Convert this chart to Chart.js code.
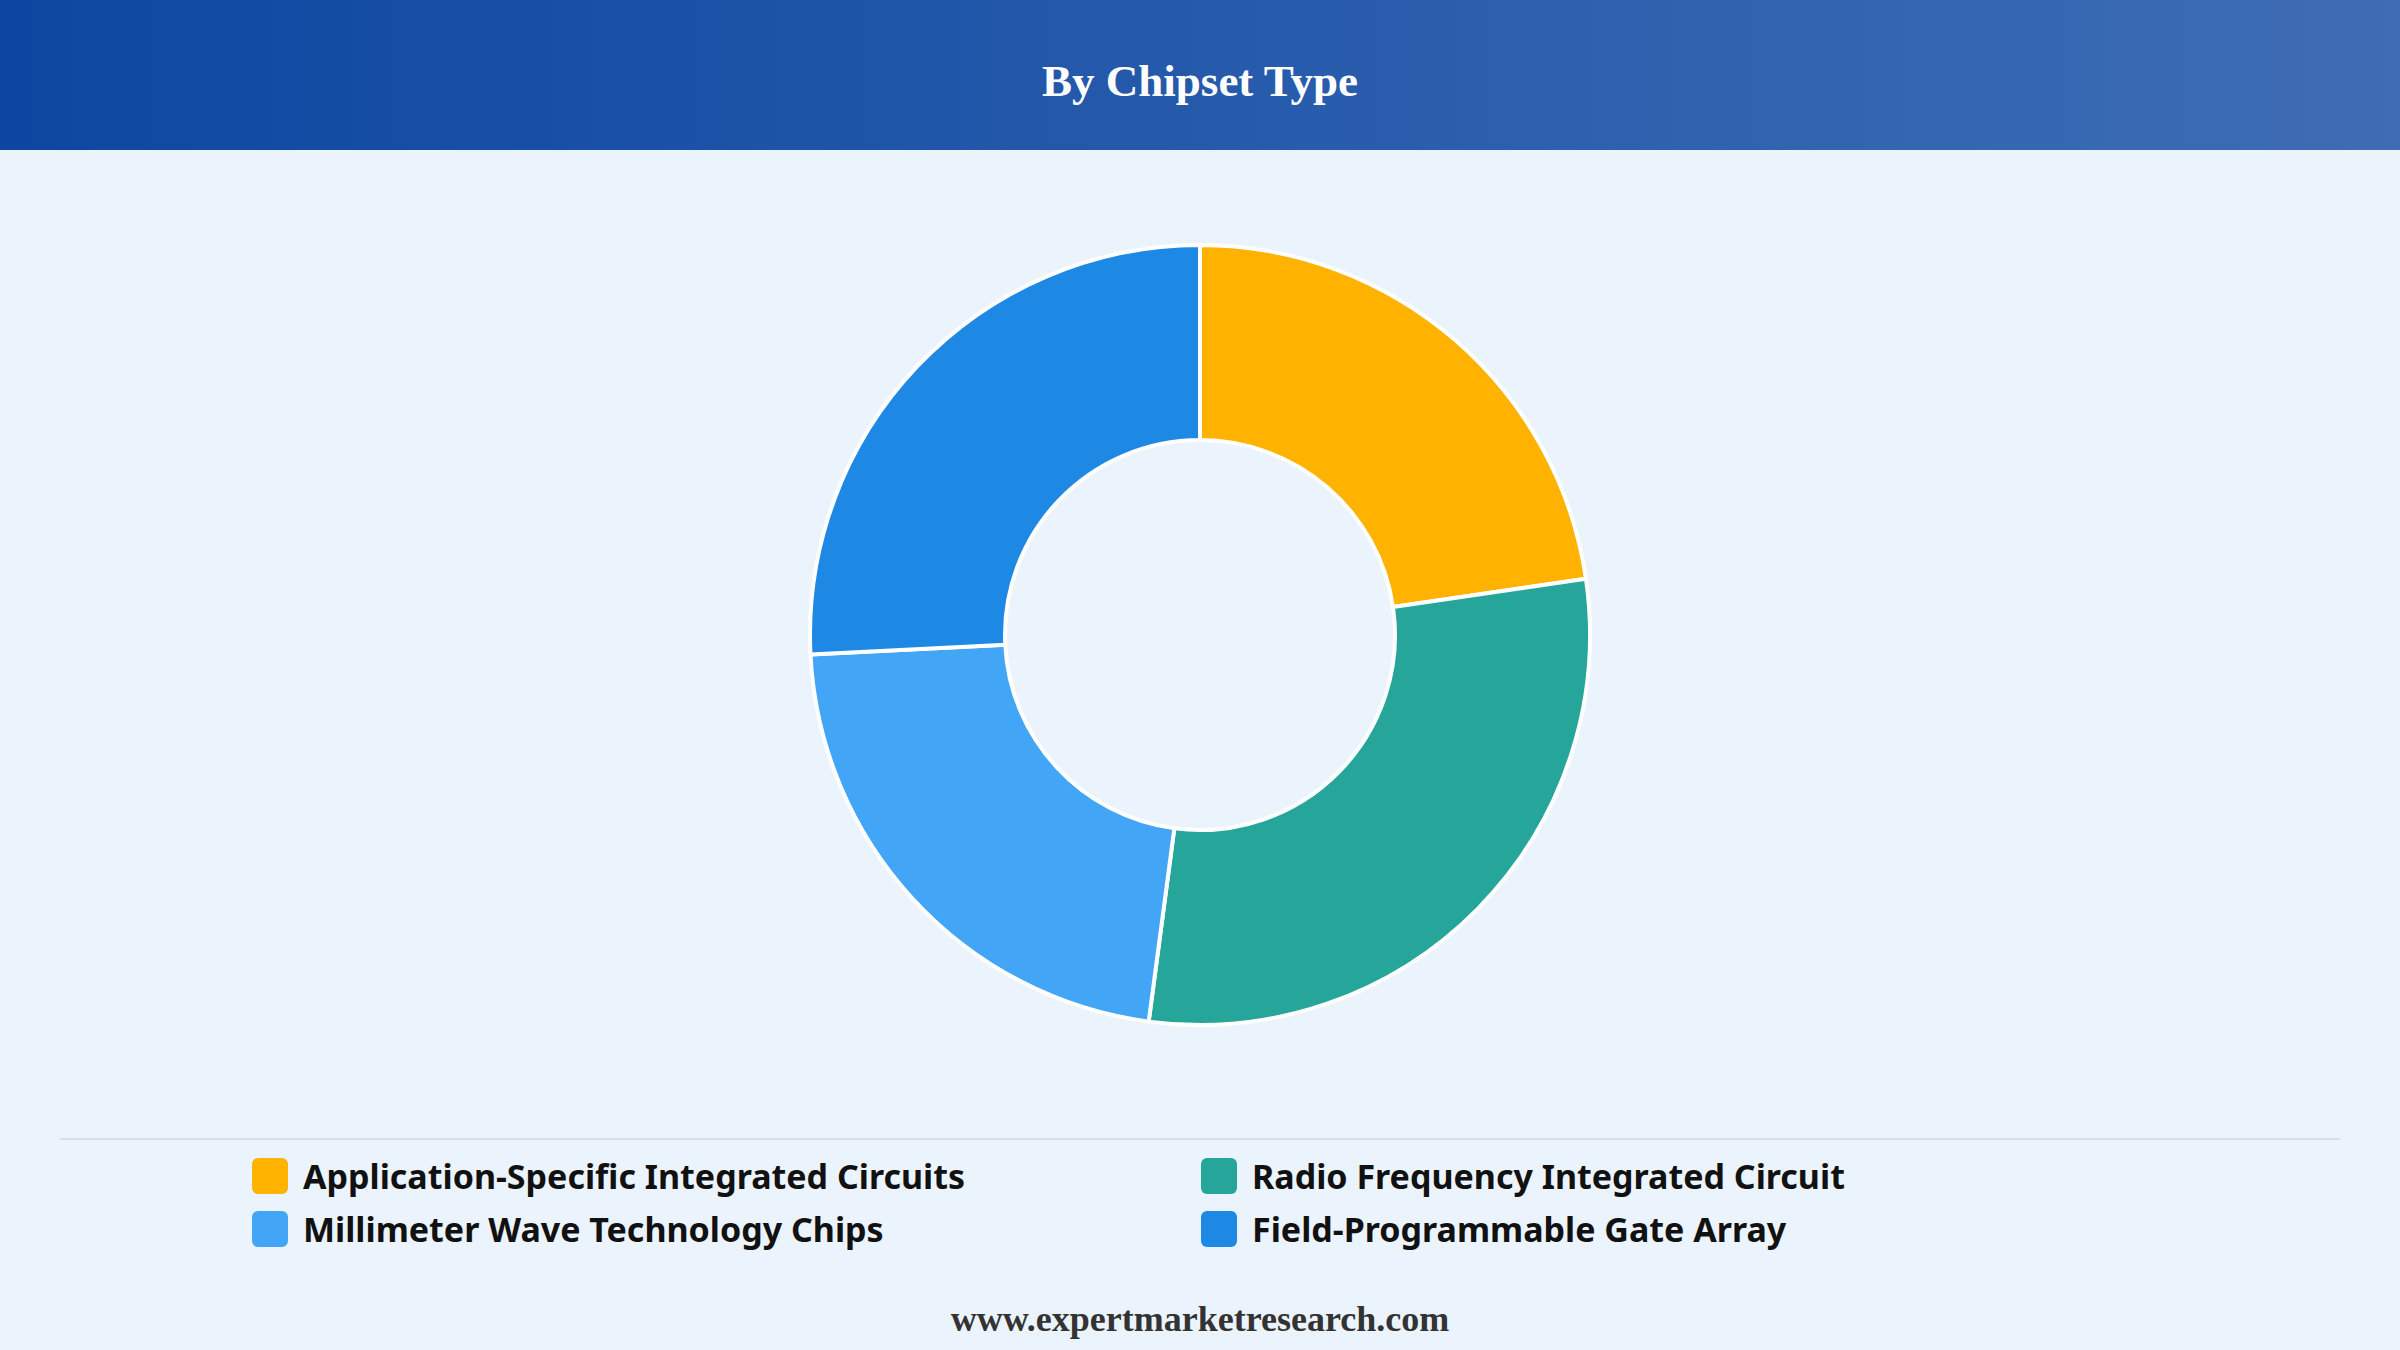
<!DOCTYPE html>
<html>
<head>
<meta charset="utf-8">
<script src="https://cdn.jsdelivr.net/npm/chart.js@4.4.1/dist/chart.umd.min.js"></script>
<style>
  html, body { margin: 0; padding: 0; }
  body { width: 2400px; height: 1350px; background: #EBF3FC; position: relative; overflow: hidden; }
  #header { position: absolute; left: 0; top: 0; width: 2400px; height: 150px;
    background: linear-gradient(90deg, #0D47A1 0%, #3E6DB5 100%); }
  #title { position: absolute; left: 0; top: 0; width: 2400px; height: 162px; line-height: 162px;
    text-align: center; color: #fff; font-family: "Liberation Serif", "DejaVu Serif", serif;
    font-weight: bold; font-size: 45px; }
  #chartBox { position: absolute; left: 0; top: 243px; width: 2400px; height: 784px; }
  #sep { position: absolute; left: 60px; top: 1138px; width: 2280px; height: 0; border-top: 2px solid #D9DEE4; }
  #legend { position: absolute; left: 252px; top: 1150px; width: 1950px; }
  .item { position: absolute; display: flex; align-items: center; height: 52px;
    font-family: "Noto Sans", "Open Sans", sans-serif; font-weight: bold; font-size: 34px; color: #111; white-space: nowrap; }
  .box { width: 36px; height: 36px; border-radius: 6px; margin-right: 15px; flex: none; }
  #footer { position: absolute; left: 0; top: 1298px; width: 2400px; text-align: center;
    font-family: "Liberation Serif", "DejaVu Serif", serif; font-weight: bold; font-size: 36px; color: #333; }
</style>
</head>
<body>
<div id="header"></div>
<div id="title">By Chipset Type</div>
<div id="chartBox"><canvas id="c"></canvas></div>
<div id="sep"></div>
<div id="legend"></div>
<div id="footer">www.expertmarketresearch.com</div>
<script>
const categories = [
  "Application-Specific Integrated Circuits",
  "Radio Frequency Integrated Circuit",
  "Millimeter Wave Technology Chips",
  "Field-Programmable Gate Array"
];
const shares = [22.7, 29.4, 22.1, 25.8];
const colors = ["#FFB300", "#26A69A", "#42A5F5", "#1E88E5"];

const chart = new Chart(document.getElementById('c'), {
  type: 'doughnut',
  data: {
    labels: categories,
    datasets: [{
      data: shares,
      backgroundColor: colors,
      borderColor: '#FFFFFF',
      borderWidth: 4
    }]
  },
  options: {
    responsive: true,
    maintainAspectRatio: false,
    animation: false,
    cutout: '50%',
    layout: { padding: 0 },
    plugins: {
      legend: { display: false },
      tooltip: { enabled: false }
    }
  }
});

// HTML legend built from the chart's own legend items
const items = chart.options.plugins.legend.labels.generateLabels(chart);
const legend = document.getElementById('legend');
items.forEach((it, i) => {
  const col = i % 2, row = Math.floor(i / 2);
  const d = document.createElement('div');
  d.className = 'item';
  d.style.left = (col * 949) + 'px';
  d.style.top = (row * 53) + 'px';
  const b = document.createElement('div');
  b.className = 'box';
  b.style.background = it.fillStyle;
  const t = document.createElement('span');
  t.textContent = it.text;
  d.appendChild(b); d.appendChild(t);
  legend.appendChild(d);
});
</script>
</body>
</html>
